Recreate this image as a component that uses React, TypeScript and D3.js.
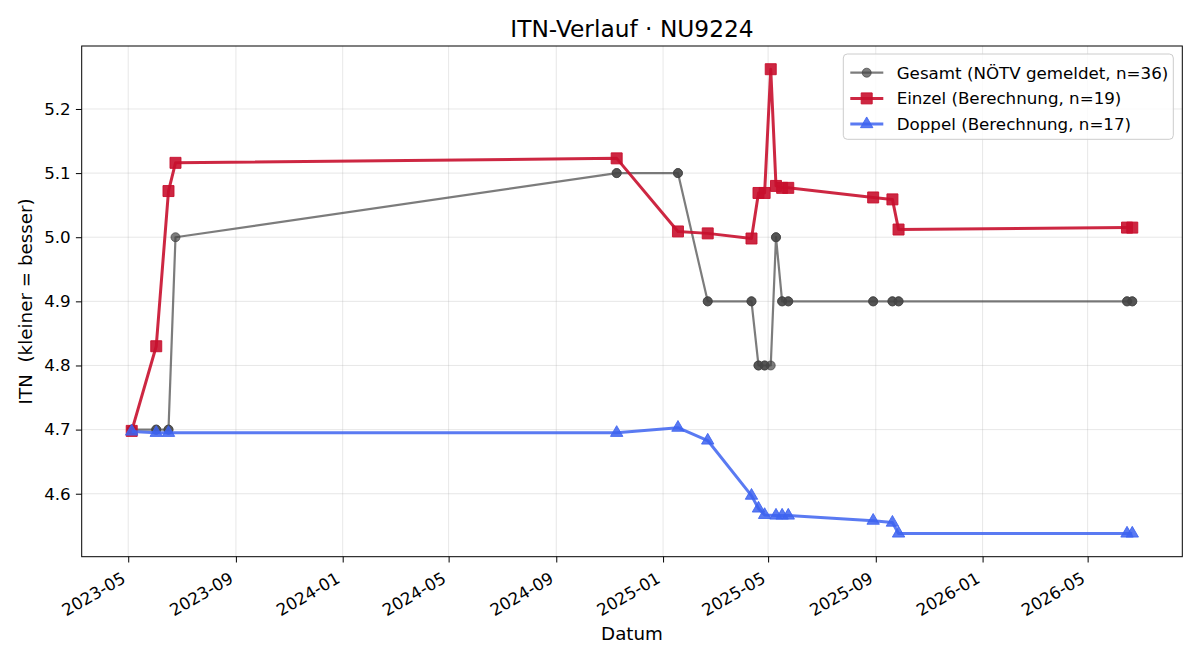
import React, { useEffect, useRef } from "react";
import * as d3 from "d3";

// Gesamt: NÖTV-gemeldete Werte (mehrere Meldungen pro Datum)
const gesamtDates = [
  "2023-05-05", "2023-05-05", "2023-06-02", "2023-06-02", "2023-06-16", "2023-06-16",
  "2023-06-24", "2024-11-09", "2024-11-09", "2025-01-18", "2025-01-18", "2025-02-21",
  "2025-02-21", "2025-04-12", "2025-04-12", "2025-04-20", "2025-04-20", "2025-04-27",
  "2025-04-27", "2025-05-04", "2025-05-10", "2025-05-10", "2025-05-17", "2025-05-17",
  "2025-05-24", "2025-05-24", "2025-08-29", "2025-08-29", "2025-09-20", "2025-09-20",
  "2025-09-27", "2025-09-27", "2026-06-15", "2026-06-15", "2026-06-21", "2026-06-21",
];
const gesamtValues = [
  4.7, 4.7, 4.7, 4.7, 4.7, 4.7,
  5.0, 5.1, 5.1, 5.1, 5.1, 4.9,
  4.9, 4.9, 4.9, 4.8, 4.8, 4.8,
  4.8, 4.8, 5.0, 5.0, 4.9, 4.9,
  4.9, 4.9, 4.9, 4.9, 4.9, 4.9,
  4.9, 4.9, 4.9, 4.9, 4.9, 4.9,
];

const einzelDates = [
  "2023-05-05", "2023-06-02", "2023-06-16", "2023-06-24", "2024-11-09", "2025-01-18",
  "2025-02-21", "2025-04-12", "2025-04-20", "2025-04-27", "2025-05-04", "2025-05-10",
  "2025-05-17", "2025-05-24", "2025-08-29", "2025-09-20", "2025-09-27", "2026-06-15",
  "2026-06-21",
];
const einzelValues = [
  4.698, 4.83, 5.072, 5.116, 5.123, 5.009,
  5.006, 4.998, 5.069, 5.069, 5.262, 5.08,
  5.077, 5.077, 5.062, 5.059, 5.012, 5.015,
  5.015,
];

const doppelDates = [
  "2023-05-05", "2023-06-02", "2023-06-16", "2024-11-09", "2025-01-18", "2025-02-21",
  "2025-04-12", "2025-04-20", "2025-04-27", "2025-05-10", "2025-05-17", "2025-05-24",
  "2025-08-29", "2025-09-20", "2025-09-27", "2026-06-15", "2026-06-21",
];
const doppelValues = [
  4.697, 4.695, 4.695, 4.695, 4.703, 4.683,
  4.597, 4.577, 4.567, 4.566, 4.566, 4.566,
  4.558, 4.555, 4.538, 4.538, 4.538,
];

const yTicks = [4.6, 4.7, 4.8, 4.9, 5.0, 5.1, 5.2];

const legendLabels = [
  "Gesamt (NÖTV gemeldet, n=36)",
  "Einzel (Berechnung, n=19)",
  "Doppel (Berechnung, n=17)",
];

const W = 1200;
const H = 660;
const FONT = "DejaVu Sans, sans-serif";

export default function App() {
  const svgRef = useRef<SVGSVGElement>(null);

  useEffect(() => {
    const svg = d3.select(svgRef.current);
    svg.selectAll("*").remove();

    const margin = { top: 46, right: 17.7, bottom: 103.3, left: 81.7 };
    const iw = W - margin.left - margin.right;
    const ih = H - margin.top - margin.bottom;
    const parse = d3.timeParse("%Y-%m-%d");

    const series = [
      { dates: gesamtDates, values: gesamtValues, color: "#444444", alpha: 0.7, lw: 2.2, marker: "circle", size: 9 },
      { dates: einzelDates, values: einzelValues, color: "#c8102e", alpha: 0.9, lw: 3, marker: "square", size: 11 },
      { dates: doppelDates, values: doppelValues, color: "#3d63f0", alpha: 0.85, lw: 3, marker: "triangle", size: 11 },
    ].map((s) => ({
      ...s,
      pts: s.dates.map((d, i) => ({ date: parse(d) as Date, value: s.values[i] })),
    }));

    // Achsenbereich wie matplotlib: 5 % Rand um die Daten
    const allPts = series.flatMap((s) => s.pts);
    const [t0, t1] = d3.extent(allPts, (d) => +d.date) as [number, number];
    const [v0, v1] = d3.extent(allPts, (d) => d.value) as [number, number];
    const tp = (t1 - t0) * 0.05;
    const vp = (v1 - v0) * 0.05;

    const x = d3.scaleTime().domain([new Date(t0 - tp), new Date(t1 + tp)]).range([0, iw]);
    const y = d3.scaleLinear().domain([v0 - vp, v1 + vp]).range([ih, 0]);

    const g = svg.append("g").attr("transform", `translate(${margin.left},${margin.top})`);

    const xTicks = x.ticks(d3.timeMonth.every(4) as d3.TimeInterval);

    // Gitter
    g.append("g")
      .selectAll("line")
      .data(xTicks)
      .enter()
      .append("line")
      .attr("x1", (d) => x(d))
      .attr("x2", (d) => x(d))
      .attr("y1", 0)
      .attr("y2", ih)
      .attr("stroke", "#b0b0b0")
      .attr("stroke-opacity", 0.3)
      .attr("stroke-width", 1);
    g.append("g")
      .selectAll("line")
      .data(yTicks)
      .enter()
      .append("line")
      .attr("x1", 0)
      .attr("x2", iw)
      .attr("y1", (d) => y(d))
      .attr("y2", (d) => y(d))
      .attr("stroke", "#b0b0b0")
      .attr("stroke-opacity", 0.3)
      .attr("stroke-width", 1);

    const symbolFor = (m: string, size: number) => {
      if (m === "circle") return d3.symbol(d3.symbolCircle, (Math.PI * size * size) / 4)();
      if (m === "square") return d3.symbol(d3.symbolSquare, size * size)();
      return d3.symbol(d3.symbolTriangle, size * size * 0.55)();
    };

    const line = d3
      .line<{ date: Date; value: number }>()
      .x((d) => x(d.date))
      .y((d) => y(d.value));

    series.forEach((s) => {
      g.append("path")
        .datum(s.pts)
        .attr("d", line)
        .attr("fill", "none")
        .attr("stroke", s.color)
        .attr("stroke-opacity", s.alpha)
        .attr("stroke-width", s.lw)
        .attr("stroke-linejoin", "round");
      g.append("g")
        .selectAll("path")
        .data(s.pts)
        .enter()
        .append("path")
        .attr("d", symbolFor(s.marker, s.size))
        .attr("transform", (d) => `translate(${x(d.date)},${y(d.value)})`)
        .attr("fill", s.color)
        .attr("fill-opacity", s.alpha)
        .attr("stroke", s.color)
        .attr("stroke-opacity", s.alpha)
        .attr("stroke-width", 1);
    });

    // Achsen
    const xAxis = g
      .append("g")
      .attr("transform", `translate(0,${ih})`)
      .call(d3.axisBottom(x).tickValues(xTicks).tickFormat(d3.timeFormat("%Y-%m") as any).tickSize(5.8).tickSizeOuter(0));
    xAxis.select(".domain").remove();
    xAxis
      .selectAll("text")
      .attr("font-family", FONT)
      .attr("font-size", 16.7)
      .attr("fill", "#000")
      .attr("text-anchor", "end")
      .attr("dy", 0)
      .attr("y", 0)
      .attr("transform", "translate(-2,25) rotate(-30)");

    const yAxis = g
      .append("g")
      .call(d3.axisLeft(y).tickValues(yTicks).tickFormat(d3.format(".1f")).tickSize(5.8).tickSizeOuter(0));
    yAxis.select(".domain").remove();
    yAxis
      .selectAll("text")
      .attr("font-family", FONT)
      .attr("font-size", 16.7)
      .attr("fill", "#000")
      .attr("x", -11);
    svg.selectAll(".tick line").attr("stroke", "#000");

    g.append("rect")
      .attr("width", iw)
      .attr("height", ih)
      .attr("fill", "none")
      .attr("stroke", "#000")
      .attr("stroke-width", 1);

    // Titel und Achsenbeschriftungen
    svg
      .append("text")
      .attr("x", margin.left + iw / 2)
      .attr("y", 36.5)
      .attr("text-anchor", "middle")
      .attr("font-family", FONT)
      .attr("font-size", 23.3)
      .text("ITN-Verlauf · NU9224");

    svg
      .append("text")
      .attr("x", margin.left + iw / 2)
      .attr("y", 640)
      .attr("text-anchor", "middle")
      .attr("font-family", FONT)
      .attr("font-size", 18.3)
      .text("Datum");

    svg
      .append("text")
      .attr("transform", `translate(32,${margin.top + ih / 2}) rotate(-90)`)
      .attr("text-anchor", "middle")
      .attr("font-family", FONT)
      .attr("font-size", 18.3)
      .style("white-space", "pre")
      .text("ITN  (kleiner = besser)");

    // Legende
    const lg = svg.append("g").attr("transform", "translate(843.3,54)");
    lg.append("rect")
      .attr("width", 330)
      .attr("height", 85.3)
      .attr("rx", 4)
      .attr("fill", "#fff")
      .attr("fill-opacity", 0.8)
      .attr("stroke", "#cccccc");
    series.forEach((s, i) => {
      const cy = 18.7 + i * 25.7;
      lg.append("line")
        .attr("x1", 7)
        .attr("x2", 40)
        .attr("y1", cy)
        .attr("y2", cy)
        .attr("stroke", s.color)
        .attr("stroke-opacity", s.alpha)
        .attr("stroke-width", s.lw);
      lg.append("path")
        .attr("d", symbolFor(s.marker, s.size))
        .attr("transform", `translate(23.4,${cy})`)
        .attr("fill", s.color)
        .attr("fill-opacity", s.alpha)
        .attr("stroke", s.color)
        .attr("stroke-opacity", s.alpha);
      lg.append("text")
        .attr("x", 53.4)
        .attr("y", cy + 6)
        .attr("font-family", FONT)
        .attr("font-size", 16.7)
        .text(legendLabels[i]);
    });
  }, []);

  return (
    <svg
      ref={svgRef}
      width={W}
      height={H}
      style={{ position: "absolute", left: 0, top: 0, background: "#fff" }}
    />
  );
}
